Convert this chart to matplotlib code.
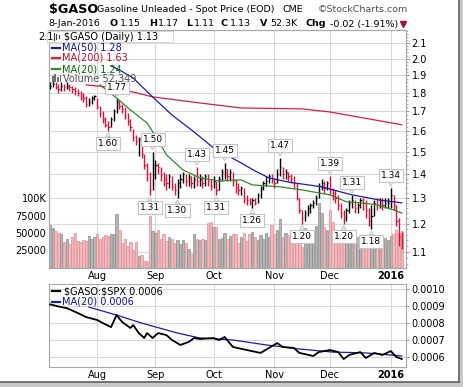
import numpy as np
import pandas as pd
import matplotlib
matplotlib.use("Agg")
import matplotlib.pyplot as plt
from matplotlib.lines import Line2D
from matplotlib.patches import Rectangle
from matplotlib.transforms import blended_transform_factory
from matplotlib.ticker import FixedLocator, NullFormatter

W, H = 464, 387

# trading days shown on the chart
holidays = ["2015-09-07", "2015-11-26", "2015-12-25", "2016-01-01"]
dates = pd.bdate_range("2015-07-09", "2016-01-08")
dates = dates[~dates.isin(pd.to_datetime(holidays))]

close = [1.84, 1.85, 1.83, 1.82, 1.84, 1.83, 1.84, 1.83, 1.82, 1.81, 1.80, 1.79, 1.77, 1.74, 1.75, 1.77, 1.78,
         1.72, 1.69, 1.66, 1.63, 1.62,
         1.66, 1.70, 1.75,
         1.73, 1.71, 1.68, 1.65, 1.62,
         1.57, 1.55, 1.56, 1.49, 1.44, 1.40, 1.33,
         1.40, 1.44, 1.43, 1.40, 1.38, 1.36, 1.39, 1.35, 1.33, 1.36,
         1.38, 1.40, 1.37, 1.39, 1.36, 1.38, 1.37, 1.38, 1.36, 1.39,
         1.37, 1.35, 1.37, 1.33, 1.38, 1.41, 1.42, 1.39, 1.41, 1.37,
         1.34, 1.33, 1.34, 1.30, 1.29, 1.28, 1.29, 1.28, 1.31, 1.34,
         1.36, 1.37, 1.39, 1.38, 1.36, 1.40, 1.43, 1.40, 1.41, 1.39,
         1.38, 1.36, 1.30, 1.25, 1.22, 1.24, 1.26, 1.27, 1.28, 1.30,
         1.35, 1.36, 1.34, 1.36, 1.33, 1.32, 1.30, 1.27, 1.24, 1.22,
         1.25, 1.28, 1.29, 1.26, 1.27, 1.29, 1.28, 1.25, 1.21, 1.23,
         1.28, 1.27, 1.29, 1.27, 1.28, 1.28, 1.31, 1.27, 1.21, 1.15, 1.13]
high = [1.86, 1.87, 1.86, 1.85, 1.86, 1.85, 1.86, 1.85, 1.84, 1.83, 1.82, 1.81, 1.80, 1.78, 1.77, 1.78, 1.79,
        1.77, 1.73, 1.70, 1.67, 1.65,
        1.67, 1.71, 1.77,
        1.76, 1.74, 1.72, 1.69, 1.66,
        1.61, 1.58, 1.57, 1.53, 1.49, 1.45, 1.41,
        1.50, 1.46, 1.45, 1.43, 1.41, 1.40, 1.40, 1.39, 1.36, 1.38,
        1.40, 1.41, 1.40, 1.40, 1.39, 1.39, 1.43, 1.40, 1.39, 1.40,
        1.40, 1.38, 1.39, 1.37, 1.39, 1.42, 1.45, 1.42, 1.42, 1.41,
        1.38, 1.36, 1.35, 1.34, 1.31, 1.30, 1.30, 1.30, 1.32, 1.35,
        1.37, 1.39, 1.40, 1.40, 1.38, 1.42, 1.47, 1.43, 1.42, 1.41,
        1.40, 1.39, 1.36, 1.30, 1.25, 1.25, 1.27, 1.28, 1.29, 1.31,
        1.36, 1.38, 1.37, 1.37, 1.39, 1.34, 1.33, 1.31, 1.28, 1.25,
        1.26, 1.29, 1.31, 1.29, 1.28, 1.30, 1.30, 1.29, 1.26, 1.27,
        1.29, 1.30, 1.30, 1.30, 1.30, 1.30, 1.34, 1.31, 1.27, 1.22, 1.17]
low = [1.82, 1.83, 1.82, 1.80, 1.81, 1.81, 1.82, 1.81, 1.80, 1.79, 1.78, 1.76, 1.75, 1.72, 1.73, 1.74, 1.76,
       1.71, 1.67, 1.64, 1.62, 1.60,
       1.62, 1.65, 1.69,
       1.71, 1.69, 1.66, 1.63, 1.60,
       1.55, 1.53, 1.48, 1.47, 1.42, 1.37, 1.31,
       1.33, 1.38, 1.40, 1.37, 1.35, 1.33, 1.34, 1.33, 1.31, 1.30,
       1.34, 1.36, 1.35, 1.35, 1.34, 1.34, 1.35, 1.35, 1.34, 1.35,
       1.35, 1.33, 1.34, 1.31, 1.33, 1.37, 1.38, 1.37, 1.37, 1.35,
       1.32, 1.31, 1.31, 1.28, 1.27, 1.27, 1.26, 1.27, 1.28, 1.30,
       1.33, 1.35, 1.36, 1.36, 1.34, 1.36, 1.39, 1.38, 1.38, 1.37,
       1.36, 1.34, 1.29, 1.24, 1.20, 1.21, 1.23, 1.24, 1.26, 1.27,
       1.30, 1.33, 1.32, 1.33, 1.31, 1.29, 1.28, 1.25, 1.22, 1.20,
       1.21, 1.24, 1.26, 1.24, 1.24, 1.26, 1.25, 1.22, 1.19, 1.18,
       1.23, 1.25, 1.26, 1.25, 1.26, 1.26, 1.26, 1.25, 1.19, 1.12, 1.11]
volume_k = [61, 57, 53, 50, 49, 37, 41, 34, 45, 50,
            38, 37, 40, 38, 46, 42, 45, 49, 41, 45, 47, 46, 49, 49,
            77,
            54, 36, 42, 32, 37, 26, 37, 17, 19, 10, 10,
            74,
            53, 50, 54, 42, 49, 38, 45, 41, 36, 40, 34, 40, 36, 27, 20, 49,
            42, 40, 42, 40, 64, 66, 59, 59, 42, 43, 50, 41, 46, 49, 49, 36,
            45, 50, 38, 48, 52, 44, 40, 47, 42, 50, 45,
            62, 48, 55, 70, 45, 50, 47, 44, 42, 48, 38, 30, 57, 43, 47, 52, 60,
            93, 79, 59, 55, 83, 66, 50, 48, 52, 50, 45, 55, 48, 40, 44, 36, 42,
            38, 34, 33, 30, 28, 32, 35, 43, 40, 46, 48, 54, 50, 52.3]

# moving averages (bar index, value)
ma50_idx = [22, 25, 30, 37, 44, 52, 59, 69, 74, 79, 86, 98, 109, 119, 127]
ma50_val = [1.956, 1.932, 1.884, 1.777, 1.680, 1.594, 1.517, 1.448, 1.413, 1.383, 1.365, 1.345, 1.312, 1.291, 1.28]
ma200_idx = [13, 24, 37, 54, 69, 91, 101, 115, 127]
ma200_val = [1.844, 1.827, 1.777, 1.744, 1.717, 1.712, 1.696, 1.660, 1.63]
ma20_idx = [18, 24, 29, 35, 39, 42, 48, 54, 61, 69, 73, 83, 91, 101, 107, 112, 118, 124, 127]
ma20_val = [1.844, 1.771, 1.707, 1.639, 1.555, 1.485, 1.417, 1.383, 1.370, 1.374, 1.353, 1.345, 1.332,
            1.312, 1.284, 1.280, 1.272, 1.252, 1.24]

# peak / trough labels
piv_idx = [24, 21, 37, 36, 46, 53, 60, 63, 73, 83, 91, 101, 106, 109, 116, 123]
piv_val = [1.77, 1.60, 1.50, 1.31, 1.30, 1.43, 1.31, 1.45, 1.26, 1.47, 1.20, 1.39, 1.20, 1.31, 1.18, 1.34]
piv_side = ["H", "L", "H", "L", "L", "H", "L", "H", "L", "H", "L", "H", "L", "H", "L", "H"]

# $GASO:$SPX ratio panel
ratio_idx = [0, 4, 6, 10, 13, 17, 19, 22, 24, 26, 29, 30, 32, 34, 35, 37, 39, 42, 44, 47, 50, 52, 54,
             59, 61, 63, 66, 71, 76, 79, 82, 84, 88, 90, 95, 97, 101, 104, 106, 108, 112, 114, 117,
             120, 123, 125, 127]
ratio_val = [0.00091, 0.000894, 0.000888, 0.000859, 0.000835, 0.000818, 0.0008, 0.000776, 0.000847,
             0.000806, 0.000771, 0.000788, 0.000741, 0.000712, 0.000741, 0.000712, 0.000741, 0.000729,
             0.0007, 0.000671, 0.000688, 0.000712, 0.000706, 0.000712, 0.0007, 0.000718, 0.000659,
             0.000641, 0.000624, 0.000653, 0.000682, 0.000659, 0.000653, 0.000624, 0.000606, 0.000629,
             0.000641, 0.000629, 0.000588, 0.000612, 0.000629, 0.000594, 0.000624, 0.000612, 0.000635,
             0.0006, 0.000588]
rma_idx = [14, 24, 33, 46, 54, 66, 78, 90, 102, 114, 127]
rma_val = [0.000894, 0.000847, 0.0008, 0.000741, 0.000712, 0.0007, 0.000671, 0.000647, 0.000629,
           0.000624, 0.000606]

BAR_RED = "#e0103a"
NAVY = "#1c1ca8"
MA200_C = "#d81e44"
GREEN = "#2e8b2e"
GRID = "#d8d8d8"
SPINE = "#a8a8a8"

n = len(dates)
idx = np.arange(n)
month_starts = [i for i in range(1, n) if dates[i].month != dates[i - 1].month]
month_labels = ["Aug", "Sep", "Oct", "Nov", "Dec", "2016"]
down = [False] + [close[i] < close[i - 1] for i in range(1, n)]

fig = plt.figure(figsize=(W / 100, H / 100), dpi=100)
fig.patch.set_facecolor("white")


def fpos(x, y):
    return x / W, 1 - y / H


def ftext(x, y, s, **kw):
    kw.setdefault("va", "center")
    fig.text(*fpos(x, y), s, **kw)


XL = (-0.4, 128.5)

# ---- main panel: volume (left) + price (right, log) ----
ax_v = fig.add_axes([49 / W, 1 - 268 / H, 357 / W, 238 / H])
ax_p = ax_v.twinx()

P0, P1 = 1.046, 2.186
ax_p.set_yscale("log")
ax_p.set_ylim(P0, P1)
price_ticks = [1.1, 1.2, 1.3, 1.4, 1.5, 1.6, 1.7, 1.8, 1.9, 2.0, 2.1]
ax_p.yaxis.set_major_locator(FixedLocator(price_ticks))
ax_p.set_yticklabels([f"{t:.1f}" for t in price_ticks])
ax_p.yaxis.set_minor_locator(FixedLocator([round(v, 2) for v in np.arange(1.06, 2.18, 0.02)]))
ax_p.yaxis.set_minor_formatter(NullFormatter())
ax_p.tick_params(axis="y", which="major", length=2.5, width=0.6, color="#808080", pad=1.5, labelsize=7)
ax_p.tick_params(axis="y", which="minor", length=1.2, width=0.5, color="#909090")

# grid behind the volume bars
trans = blended_transform_factory(ax_v.transAxes, ax_p.transData)
for p in price_ticks:
    ax_v.plot([0, 1], [p, p], transform=trans, color=GRID, lw=0.8, zorder=0)
for m in month_starts:
    ax_v.axvline(m, color=GRID, lw=0.8, zorder=0)

vcol = ["#f0b9bd" if d else "#b4b4b4" for d in down]
vedge = ["#e28c96" if d else "#8c8c8c" for d in down]
ax_v.bar(idx, np.array(volume_k) * 1000, width=0.85, color=vcol, edgecolor=vedge, linewidth=0.5, zorder=1)
ax_v.set_ylim(0, 340000)
ax_v.set_yticks([25000, 50000, 75000, 100000])
ax_v.set_yticklabels(["25000", "50000", "75000", "100K"])
ax_v.tick_params(axis="y", length=0, pad=2, labelsize=7)
ax_v.set_xticks(month_starts)
ax_v.set_xticklabels(month_labels)
ax_v.tick_params(axis="x", length=0, pad=2.5, labelsize=7)
ax_v.get_xticklabels()[-1].set_fontweight("bold")

# OHLC bars
bcol = [BAR_RED if d else "black" for d in down]
ax_p.vlines(idx, low, high, colors=bcol, lw=1.0, zorder=3)
ax_p.hlines(close, idx, idx + 0.45, colors=bcol, lw=0.9, zorder=3)

ax_p.plot(ma200_idx, ma200_val, color=MA200_C, lw=0.9, zorder=4)
ax_p.plot(ma50_idx, ma50_val, color=NAVY, lw=0.9, zorder=4)
ax_p.plot(ma20_idx, ma20_val, color=GREEN, lw=0.9, zorder=4)

for i, v, s in zip(piv_idx, piv_val, piv_side):
    off = 9 if s == "H" else -9
    if v == 1.77:
        off = 7.5
    ax_p.annotate(f"{v:.2f}", xy=(i, v), xytext=(0, off), textcoords="offset points",
                  ha="center", va="center", fontsize=6.5, zorder=6,
                  bbox=dict(boxstyle="square,pad=0.22", fc="white", ec="#c4c4c4", lw=0.8),
                  arrowprops=dict(arrowstyle="wedge,tail_width=0.5", fc="white", ec="#c4c4c4",
                                  lw=0.7, shrinkA=0, shrinkB=1.5))

ax_v.set_xlim(*XL)
ax_p.set_xlim(*XL)
for a in (ax_v, ax_p):
    for sp in a.spines.values():
        sp.set_color(SPINE)
        sp.set_linewidth(0.8)

# ---- ratio panel ----
ax_r = fig.add_axes([49 / W, 1 - 367 / H, 357 / W, 83 / H])
for m in month_starts:
    ax_r.axvline(m, color=GRID, lw=0.8, zorder=0)
r_ticks = [0.0006, 0.0007, 0.0008, 0.0009, 0.0010]
for t in r_ticks:
    ax_r.axhline(t, color=GRID, lw=0.8, zorder=0)
ax_r.plot(rma_idx, rma_val, color=NAVY, lw=0.9, zorder=2)
ax_r.plot(ratio_idx, ratio_val, color="black", lw=1.3, zorder=3)
ax_r.set_xlim(*XL)
ax_r.set_ylim(0.000541, 0.00103)
ax_r.yaxis.tick_right()
ax_r.set_yticks(r_ticks)
ax_r.set_yticklabels([f"{t:.4f}" for t in r_ticks])
ax_r.tick_params(axis="y", length=2.5, width=0.6, color="#808080", pad=1.5, labelsize=7)
ax_r.set_xticks(month_starts)
ax_r.set_xticklabels(month_labels)
ax_r.tick_params(axis="x", length=0, pad=2.5, labelsize=7)
ax_r.get_xticklabels()[-1].set_fontweight("bold")
for sp in ax_r.spines.values():
    sp.set_color(SPINE)
    sp.set_linewidth(0.8)

# ---- header ----
ftext(49, 10, "\\$GASO", fontsize=9.2, fontweight="bold")
ftext(97, 10, "Gasoline Unleaded - Spot Price (EOD)", fontsize=6.8)
ftext(283, 10, "CME", fontsize=6.8)
ftext(318, 10, "\u00a9StockCharts.com", fontsize=6.8, color="#505050")
for x, s, b in [(48, "8-Jan-2016", False), (110, "O", True), (120, "1.15", False), (149, "H", True),
                (158, "1.17", False), (186, "L", True), (194, "1.11", False), (221, "C", True),
                (230, "1.13", False), (260, "V", True), (270, "52.3K", False), (306, "Chg", True),
                (330, "-0.02 (-1.91%)", False)]:
    ftext(x, 24, s, fontsize=6.8, fontweight="bold" if b else "normal")
fig.add_artist(Line2D([403 / W], [1 - 24 / H], marker="v", color="#a0103a", markersize=4, lw=0))

# ---- legends inside panels ----
ftext(38, 37, "2.1", fontsize=7)
fig.add_artist(Rectangle(fpos(47, 42), 126 / W, 11 / H, transform=fig.transFigure,
                         fc="white", ec="#d0d0d0", lw=0.6))
for k, xx in enumerate([54, 56.5, 59]):
    fig.add_artist(Line2D([xx / W] * 2, [1 - (33 + k) / H, 1 - (40 - k) / H], color="#404040", lw=0.8))
ftext(64, 37, "\\$GASO (Daily) 1.13", fontsize=7)
for y, s, c, lc in [(48, "MA(50) 1.28", "#101090", NAVY), (58, "MA(200) 1.63", "#c0102e", MA200_C),
                    (69, "MA(20) 1.24", "#0a640a", GREEN)]:
    fig.add_artist(Line2D([52 / W, 60 / W], [1 - y / H] * 2, color=lc, lw=1.6))
    ftext(62, y, s, fontsize=7, color=c)
for xx, hh in [(52, 6), (54.5, 8), (57, 5), (59.5, 7)]:
    fig.add_artist(Rectangle(fpos(xx, 82), 1.8 / W, hh / H, transform=fig.transFigure,
                             fc="#707070", ec="none"))
ftext(63, 79, "Volume 52,349", fontsize=7, color="#505050")

fig.add_artist(Line2D([52 / W, 60 / W], [1 - 291 / H] * 2, color="black", lw=1.6))
ftext(64, 291, "\\$GASO:\\$SPX 0.0006", fontsize=7)
fig.add_artist(Line2D([52 / W, 60 / W], [1 - 302 / H] * 2, color=NAVY, lw=1.6))
ftext(62, 302, "MA(20) 0.0006", fontsize=7, color="#101090")

# drop-shadow frame
fig.add_artist(Rectangle((459 / W, 0), 5 / W, 1, transform=fig.transFigure, fc="#c8c8c8", ec="none"))
fig.add_artist(Rectangle((0, 0), 1, 5 / H, transform=fig.transFigure, fc="#c8c8c8", ec="none"))
fig.add_artist(Line2D([459 / W] * 2, [5 / H, 1], color="#606060", lw=1.2))
fig.add_artist(Line2D([0, 459 / W], [5 / H] * 2, color="#606060", lw=1.2))

fig.savefig("out.png", dpi=100)
